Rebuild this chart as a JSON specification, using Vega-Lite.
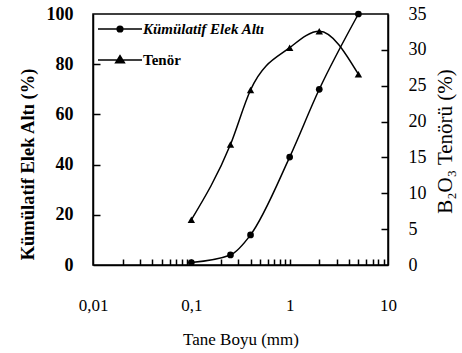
{
  "$schema": "https://vega.github.io/schema/vega-lite/v6.json",
  "width": 295,
  "height": 251,
  "autosize": {"type": "none"},
  "padding": {"left": 93, "top": 14, "right": 74, "bottom": 88},
  "background": "white",
  "config": {
    "view": {"stroke": "black", "strokeWidth": 1.5},
    "font": "Liberation Serif",
    "axis": {"labelFont": "Liberation Serif", "titleFont": "Liberation Serif", "domainColor": "black", "domainWidth": 1.5, "tickColor": "black", "tickWidth": 1.5, "labelColor": "black", "titleColor": "black", "grid": false, "labelFlush": false, "labelOverlap": false},
    "legend": {"labelFont": "Liberation Serif", "titleFont": "Liberation Serif"}
  },
  "data": {
    "values": [
      {"size": 0.1, "value": 1, "series": "Kümülatif Elek Altı"},
      {"size": 0.25, "value": 4, "series": "Kümülatif Elek Altı"},
      {"size": 0.4, "value": 12, "series": "Kümülatif Elek Altı"},
      {"size": 1, "value": 43, "series": "Kümülatif Elek Altı"},
      {"size": 2, "value": 70, "series": "Kümülatif Elek Altı"},
      {"size": 5, "value": 100, "series": "Kümülatif Elek Altı"},
      {"size": 0.1, "value": 6.3, "series": "Tenör"},
      {"size": 0.25, "value": 16.8, "series": "Tenör"},
      {"size": 0.4, "value": 24.4, "series": "Tenör"},
      {"size": 1, "value": 30.3, "series": "Tenör"},
      {"size": 2, "value": 32.6, "series": "Tenör"},
      {"size": 5, "value": 26.6, "series": "Tenör"}
    ]
  },
  "layer": [
    {
      "transform": [{"filter": "datum.series === 'Kümülatif Elek Altı'"}],
      "layer": [
        {
          "mark": {"type": "line", "interpolate": "monotone", "strokeWidth": 1.5},
          "encoding": {
            "x": {
              "field": "size",
              "type": "quantitative",
              "scale": {"type": "log", "domain": [0.01, 10]},
              "axis": {
                "orient": "bottom",
                "title": "Tane Boyu (mm)",
                "titleFontSize": 17,
                "titleFontWeight": "normal",
                "titlePadding": 18,
                "labelFontSize": 17,
                "labelPadding": 32,
                "ticks": false,
                "values": [0.01, 0.1, 1, 10],
                "labelExpr": "replace(format(datum.value, '~g'), '.', ',')"
              }
            },
            "y": {
              "field": "value",
              "type": "quantitative",
              "scale": {"domain": [0, 100]},
              "axis": {
                "orient": "left",
                "title": "Kümülatif Elek Altı (%)",
                "titleFontSize": 18.5,
                "titleFontWeight": "bold",
                "titleX": -66,
                "titleY": 150,
                "titleBaseline": "middle",
                "labelFontSize": 18,
                "labelFontWeight": "bold",
                "labelPadding": 20,
                "ticks": false,
                "values": [0, 20, 40, 60, 80, 100]
              }
            },
            "color": {
              "field": "series",
              "type": "nominal",
              "scale": {"domain": ["Kümülatif Elek Altı", "Tenör"], "range": ["black", "black"]},
              "legend": {
                "title": null,
                "orient": "none",
                "legendX": 4,
                "legendY": -8,
                "rowPadding": -11,
                "labelOffset": 0,
                "labelFontSize": 15,
                "labelFontWeight": "bold",
                "labelColor": "black",
                "encode": {
                  "symbols": {
                    "update": {
                      "shape": {"signal": "datum.value === 'Tenör' ? 'M-1,0H1M-0.2,0.13L0,-0.2L0.2,0.13Z' : 'M-1,0H1M-0.13,0A0.13,0.13 0 1,0 0.13,0A0.13,0.13 0 1,0 -0.13,0Z'"},
                      "size": {"value": 1936},
                      "strokeWidth": {"value": 1.5},
                      "fill": {"value": "black"},
                      "opacity": {"value": 1}
                    }
                  },
                  "labels": {
                    "update": {
                      "fontStyle": {"signal": "datum.value === 'Tenör' ? 'normal' : 'italic'"}
                    }
                  }
                }
              }
            }
          }
        },
        {
          "mark": {"type": "point", "filled": true, "color": "black", "shape": "circle", "size": 45, "opacity": 1},
          "encoding": {
            "x": {
              "field": "size",
              "type": "quantitative",
              "axis": {
                "orient": "top",
                "offset": -251,
                "domain": false,
                "labels": false,
                "title": null,
                "ticks": true,
                "tickSize": 6,
                "tickColor": "black",
                "tickWidth": 1.5,
                "zindex": 5,
                "values": [0.02, 0.03, 0.04, 0.05, 0.06, 0.07, 0.08, 0.09, 0.1, 0.2, 0.3, 0.4, 0.5, 0.6, 0.7, 0.8, 0.9, 1, 2, 3, 4, 5, 6, 7, 8, 9]
              }
            },
            "y": {
              "field": "value",
              "type": "quantitative",
              "axis": {
                "orient": "right",
                "offset": -295,
                "domain": false,
                "labels": false,
                "title": null,
                "ticks": true,
                "tickSize": 7,
                "tickColor": "black",
                "tickWidth": 1.5,
                "zindex": 5,
                "values": [20, 40, 60, 80]
              }
            }
          }
        }
      ]
    },
    {
      "transform": [{"filter": "datum.series === 'Tenör'"}],
      "layer": [
        {
          "mark": {"type": "line", "interpolate": "monotone", "strokeWidth": 1.5, "color": "black"},
          "encoding": {
            "x": {"field": "size", "type": "quantitative", "axis": null},
            "y": {
              "field": "value",
              "type": "quantitative",
              "scale": {"domain": [0, 35]},
              "axis": {
                "orient": "right",
                "title": "B₂O₃ Tenörü (%)",
                "titleAngle": 270,
                "titleFontSize": 21,
                "titleFontWeight": "normal",
                "titleX": 57,
                "titleY": 127,
                "titleBaseline": "middle",
                "labelFontSize": 18,
                "labelPadding": 20,
                "ticks": false,
                "values": [0, 5, 10, 15, 20, 25, 30, 35]
              }
            }
          }
        },
        {
          "mark": {"type": "point", "filled": true, "color": "black", "shape": "triangle-up", "size": 55, "opacity": 1},
          "encoding": {
            "x": {"field": "size", "type": "quantitative", "axis": null},
            "y": {
              "field": "value",
              "type": "quantitative",
              "axis": {
                "orient": "left",
                "offset": -295,
                "domain": false,
                "labels": false,
                "title": null,
                "ticks": true,
                "tickSize": 7,
                "tickColor": "black",
                "tickWidth": 1.5,
                "zindex": 5,
                "values": [5, 10, 15, 20, 25, 30]
              }
            }
          }
        }
      ]
    }
  ],
  "resolve": {"scale": {"y": "independent"}, "axis": {"x": "independent"}}
}
